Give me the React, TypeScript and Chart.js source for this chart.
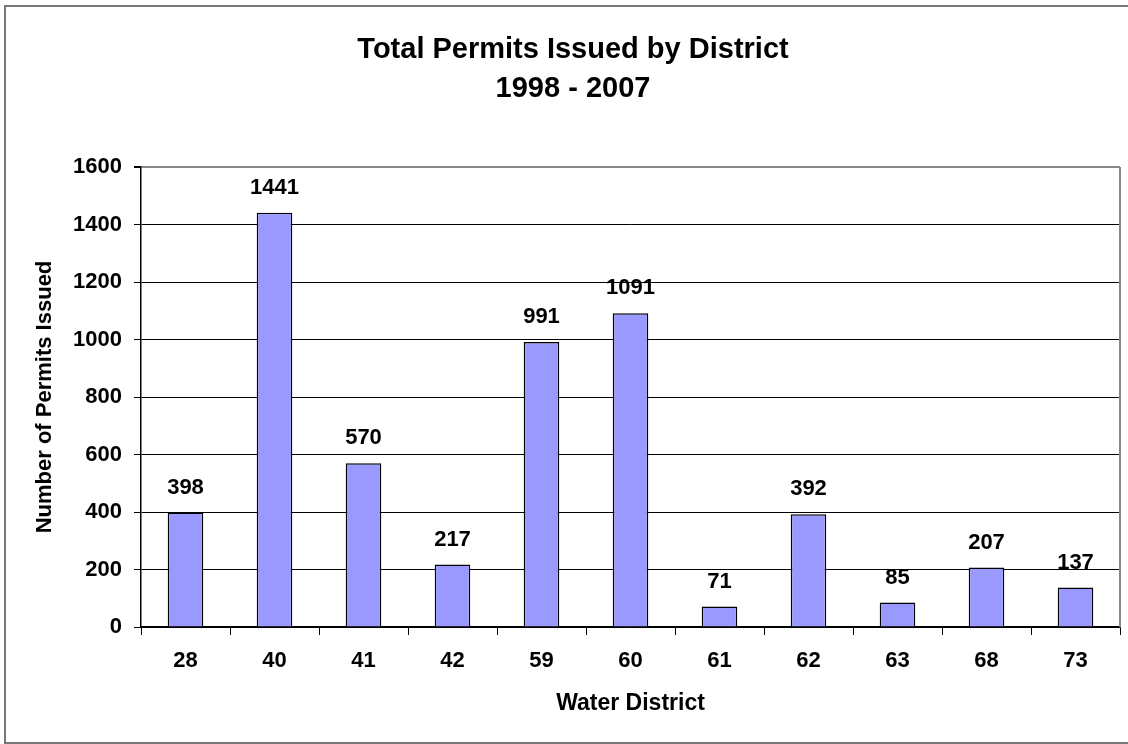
import React, { useEffect, useRef } from "react";
import { Chart, registerables } from "chart.js";

Chart.register(...registerables);

const districts = ["28", "40", "41", "42", "59", "60", "61", "62", "63", "68", "73"];
const permits = [398, 1441, 570, 217, 991, 1091, 71, 392, 85, 207, 137];
const titleLines = ["Total Permits Issued by District", "1998 - 2007"];
const yAxisTitle = "Number of Permits Issued";
const xAxisTitle = "Water District";
const yMin = 0;
const yMax = 1600;
const yStep = 200;

const FONT = '"Liberation Sans", Arial, Helvetica, sans-serif';

const valueLabels = {
  id: "valueLabels",
  afterDatasetsDraw(chart: any) {
    const ctx = chart.ctx;
    const meta = chart.getDatasetMeta(0);
    ctx.save();
    ctx.font = `bold 22px ${FONT}`;
    ctx.fillStyle = "#000";
    ctx.textAlign = "center";
    ctx.textBaseline = "middle";
    meta.data.forEach((bar: any, i: number) => {
      ctx.fillText(String(permits[i]), bar.x, bar.y - 25);
    });
    ctx.restore();
  },
};

const plotFrame = {
  id: "plotFrame",
  beforeDatasetsDraw(chart: any) {
    const { ctx, chartArea } = chart;
    ctx.save();
    ctx.strokeStyle = "#888";
    ctx.lineWidth = 2;
    ctx.beginPath();
    ctx.moveTo(chartArea.right, chartArea.top);
    ctx.lineTo(chartArea.right, chartArea.bottom);
    ctx.stroke();
    ctx.restore();
  },
};

export default function App() {
  const ref = useRef<HTMLCanvasElement | null>(null);

  useEffect(() => {
    if (!ref.current) return;
    const chart = new Chart(ref.current, {
      type: "bar",
      data: {
        labels: districts,
        datasets: [
          {
            data: permits,
            backgroundColor: "#9999FF",
            borderColor: "#000",
            borderWidth: 1.5,
            barPercentage: 0.4,
            categoryPercentage: 1,
          },
        ],
      },
      options: {
        responsive: false,
        animation: false,
        devicePixelRatio: 1,
        layout: { padding: { left: 26, right: 8, top: 0, bottom: 0 } },
        plugins: {
          legend: { display: false },
          tooltip: { enabled: false },
          title: {
            display: true,
            text: titleLines,
            color: "#000",
            font: { family: FONT, size: 29, weight: "bold", lineHeight: 1.35 },
            padding: { top: 30.4, bottom: 58.3 },
          },
        },
        scales: {
          x: {
            afterFit(scale: any) {
              scale.height = 117;
            },
            grid: {
              display: true,
              drawOnChartArea: false,
              drawTicks: true,
              tickLength: 8,
              tickColor: "#000",
              offset: true,
            },
            border: { display: true, color: "#000", width: 1.5 },
            ticks: {
              color: "#000",
              font: { family: FONT, size: 22, weight: "bold" },
              padding: 13,
              maxRotation: 0,
            },
            title: {
              display: true,
              text: xAxisTitle,
              color: "#000",
              font: { family: FONT, size: 23, weight: "bold" },
              padding: { top: 0, bottom: 27 },
            },
          },
          y: {
            min: yMin,
            max: yMax,
            afterFit(scale: any) {
              scale.width = 115;
            },
            grid: {
              color: (c: any) => (c.tick && c.tick.value === yMax ? "#888" : "#000"),
              lineWidth: (c: any) => (c.tick && c.tick.value === yMax ? 2 : 1),
              drawTicks: true,
              tickLength: 7,
              tickColor: "#000",
            },
            border: { display: true, color: "#000", width: 1.5 },
            ticks: {
              stepSize: yStep,
              color: "#000",
              font: { family: FONT, size: 22, weight: "bold" },
              padding: 12,
              callback: (v: any) => String(v),
            },
            title: {
              display: true,
              text: yAxisTitle,
              color: "#000",
              font: { family: FONT, size: 22, weight: "bold" },
              padding: { top: 6, bottom: 0 },
            },
          },
        },
      },
      plugins: [plotFrame, valueLabels],
    });
    return () => chart.destroy();
  }, []);

  return (
    <div
      style={{
        position: "fixed",
        left: 0,
        top: 0,
        width: 1128,
        height: 744,
        background: "#fff",
        overflow: "hidden",
      }}
    >
      <canvas
        ref={ref}
        width={1128}
        height={744}
        style={{ position: "absolute", left: 0, top: 0, display: "block" }}
      />
      <div
        style={{
          position: "absolute",
          left: 4,
          top: 5,
          width: 1140,
          height: 739,
          boxSizing: "border-box",
          border: "2px solid #777",
          pointerEvents: "none",
        }}
      />
    </div>
  );
}
